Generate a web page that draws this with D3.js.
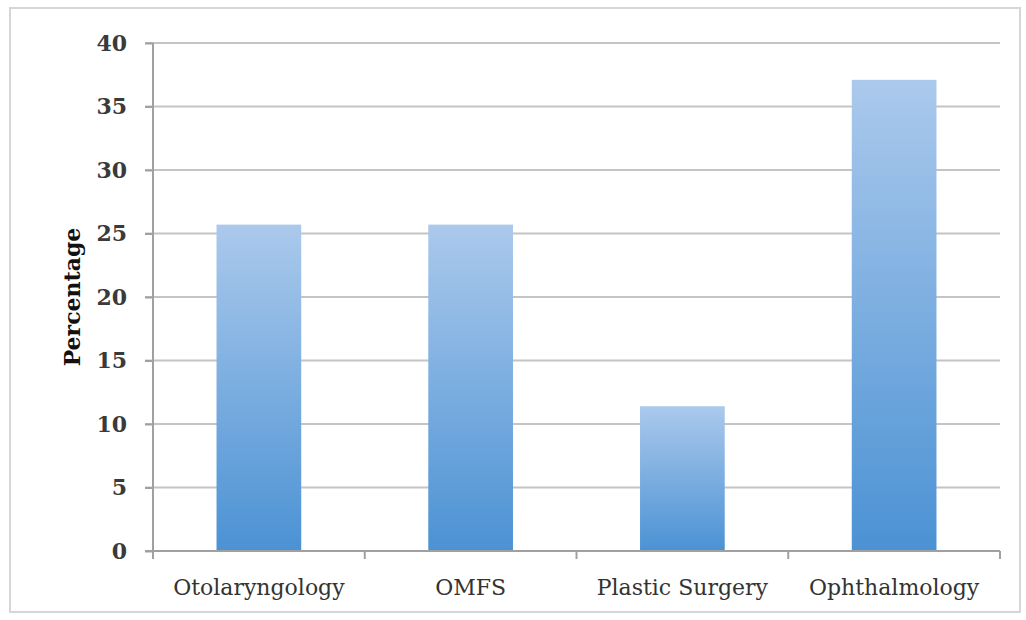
<!DOCTYPE html>
<html>
<head>
<meta charset="utf-8">
<script src="https://cdn.jsdelivr.net/npm/d3@7"></script>
<style>
  body { margin: 0; background: #fff; }
  .tick-y text { font-family: "DejaVu Serif", serif; font-weight: bold; font-size: 22px; fill: #3a3a3a; }
  .tick-x text { font-family: "DejaVu Serif", serif; font-size: 22px; fill: #333; }
</style>
</head>
<body>
<div id="chart"></div>
<script>
const categories = ['Otolaryngology', 'OMFS', 'Plastic Surgery', 'Ophthalmology'];
const percentages = [25.7, 25.7, 11.4, 37.1];
const yTicks = [0, 5, 10, 15, 20, 25, 30, 35, 40];

const W = 1026, H = 620;
const margin = { top: 43, right: 26, bottom: 69, left: 153 };
const width = W - margin.left - margin.right;
const height = H - margin.top - margin.bottom;

const svg = d3.select('#chart').append('svg')
  .attr('width', W)
  .attr('height', H);

// outer frame
svg.append('rect')
  .attr('x', 10).attr('y', 8)
  .attr('width', 1010).attr('height', 604)
  .attr('fill', 'none')
  .attr('stroke', '#d6d6d6')
  .attr('stroke-width', 2);

const lg = svg.append('defs').append('linearGradient')
  .attr('id', 'barBg')
  .attr('x1', '0%').attr('x2', '0%')
  .attr('y1', '0%').attr('y2', '100%');
lg.append('stop').attr('offset', '0%').style('stop-color', '#abc9ec');
lg.append('stop').attr('offset', '100%').style('stop-color', '#4b92d4');

const chart = svg.append('g')
  .attr('transform', `translate(${margin.left},${margin.top})`);

const x = d3.scaleBand()
  .domain(categories)
  .range([0, width])
  .paddingInner(0.6)
  .paddingOuter(0.3);

const y = d3.scaleLinear()
  .domain([0, 40])
  .range([height, 0]);

// gridlines
chart.append('g')
  .selectAll('line')
  .data(yTicks.filter(d => d > 0))
  .join('line')
  .attr('x1', -8).attr('x2', width)
  .attr('y1', d => y(d)).attr('y2', d => y(d))
  .attr('stroke', '#c4c4c4')
  .attr('stroke-width', 2);

// bars
chart.append('g')
  .selectAll('rect')
  .data(categories)
  .join('rect')
  .attr('x', d => x(d))
  .attr('y', (d, i) => y(percentages[i]))
  .attr('width', x.bandwidth())
  .attr('height', (d, i) => height - y(percentages[i]))
  .attr('fill', 'url(#barBg)');

// y axis
const yAxisG = chart.append('g')
  .attr('class', 'tick-y')
  .call(d3.axisLeft(y).tickValues(yTicks).tickSize(8).tickPadding(18));
yAxisG.select('.domain').attr('stroke', '#a0a0a0').attr('stroke-width', 2)
  .attr('d', `M0,${y(40)}V${height}`);
yAxisG.selectAll('.tick line').attr('stroke', '#a0a0a0').attr('stroke-width', 2);

// x axis with ticks at category boundaries
const xAxisG = chart.append('g')
  .attr('class', 'tick-x')
  .attr('transform', `translate(0,${height})`)
  .call(d3.axisBottom(x).tickSize(0).tickPadding(28));
xAxisG.select('.domain').attr('stroke', '#a0a0a0').attr('stroke-width', 2)
  .attr('d', `M-8,0H${width}`);
xAxisG.selectAll('.bound')
  .data(d3.range(categories.length + 1))
  .join('line')
  .attr('class', 'bound')
  .attr('x1', i => i * x.step()).attr('x2', i => i * x.step())
  .attr('y1', 0).attr('y2', 8)
  .attr('stroke', '#a0a0a0')
  .attr('stroke-width', 2);

// y axis title
svg.append('text')
  .attr('transform', `translate(80,${margin.top + height / 2}) rotate(-90)`)
  .attr('text-anchor', 'middle')
  .style('font-family', '"DejaVu Serif", serif')
  .style('font-weight', 'bold')
  .style('font-size', '22px')
  .style('fill', '#111')
  .text('Percentage');
</script>
</body>
</html>
